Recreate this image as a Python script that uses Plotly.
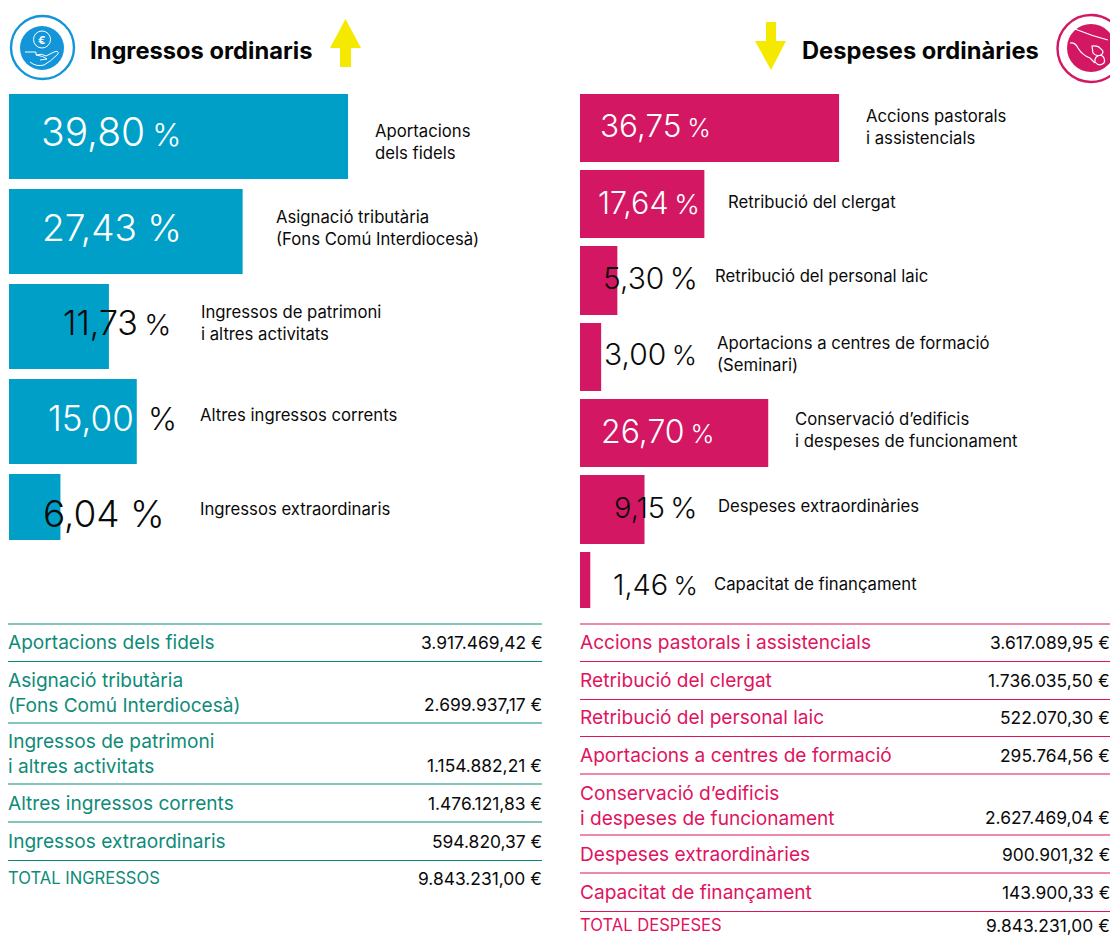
import plotly.graph_objects as go

# ---------- data ----------
income_labels = ["Aportacions<br>dels fidels", "Asignació tributària<br>(Fons Comú Interdiocesà)",
                 "Ingressos de patrimoni<br>i altres activitats", "Altres ingressos corrents", "Ingressos extraordinaris"]
income_pct = [39.80, 27.43, 11.73, 15.00, 6.04]
income_pct_text = ["39,80", "27,43", "11,73", "15,00", "6,04"]

expense_labels = ["Accions pastorals<br>i assistencials", "Retribució del clergat", "Retribució del personal laic",
                  "Aportacions a centres de formació<br>(Seminari)", "Conservació d’edificis<br>i despeses de funcionament",
                  "Despeses extraordinàries", "Capacitat de finançament"]
expense_pct = [36.75, 17.64, 5.30, 3.00, 26.70, 9.15, 1.46]
expense_pct_text = ["36,75", "17,64", "5,30", "3,00", "26,70", "9,15", "1,46"]

income_rows = ["Aportacions dels fidels", "Asignació tributària<br>(Fons Comú Interdiocesà)",
               "Ingressos de patrimoni<br>i altres activitats", "Altres ingressos corrents",
               "Ingressos extraordinaris", "TOTAL INGRESSOS"]
income_amounts = ["3.917.469,42 €", "2.699.937,17 €", "1.154.882,21 €", "1.476.121,83 €", "594.820,37 €", "9.843.231,00 €"]

expense_rows = ["Accions pastorals i assistencials", "Retribució del clergat", "Retribució del personal laic",
                "Aportacions a centres de formació", "Conservació d’edificis<br>i despeses de funcionament",
                "Despeses extraordinàries", "Capacitat de finançament", "TOTAL DESPESES"]
expense_amounts = ["3.617.089,95 €", "1.736.035,50 €", "522.070,30 €", "295.764,56 €", "2.627.469,04 €",
                   "900.901,32 €", "143.900,33 €", "9.843.231,00 €"]

# ---------- layout constants (pixels) ----------
W, H = 1110, 935
FONT = "Inter"
BLUE, PINK, YEL = "#009fc7", "#d31763", "#f6e900"
ICON_BLUE = "#1296d9"
TEAL, RED = "#0e8b78", "#e0135f"
INK = "#0a0a0a"

L_BAR_TOP = [94, 189, 284, 379, 474]
L_BAR_H = [85, 85, 85, 85, 66]
R_BAR_TOP = [94, 170, 246, 323, 399, 475, 552]
R_BAR_H = [68, 68, 69, 68, 68, 69, 56]
# x, y, font size, gap character, relative size of the % sign
L_PCT_POS = [(41, 131, 39, "\u2009", 0.8), (42, 227, 37, " ", 1.0), (63, 322, 34, "\u2009", 0.85),
             (48, 418, 35, "", 0), (43, 513, 37, " ", 1.0)]
R_PCT_POS = [(600, 125, 31.5, "\u2009", 0.8), (598, 202, 30.5, "\u2009", 0.9), (603, 278, 30, "\u2009", 1.0),
             (604, 354, 30, "\u2009", 0.9), (601, 431, 32, "\u2009", 0.8), (614, 507, 29, "\u2009", 1.0),
             (613, 584, 29, "\u2009", 0.9)]
L_LAB_POS = [(375, 142), (276, 228), (201, 323), (200, 415), (200, 509)]
R_LAB_POS = [(866, 127), (728, 202), (715, 276), (717, 354), (795, 430), (718, 506), (714, 584)]
L_LINES = [624, 661.5, 723, 784, 822, 860.5]
R_LINES = [624, 661.5, 699.5, 736.5, 774, 835, 873, 911.5]
L_ROW_Y = [642, 692, 753, 803, 841, 878]
R_ROW_Y = [642, 680, 717, 755, 805, 854, 892, 925]
LABEL_SIZE, ROW_SIZE, TOTAL_SIZE, AMOUNT_SIZE, TITLE_SIZE = 16.7, 19.1, 16.6, 17.4, 23.7

fig = go.Figure()
fig.add_trace(go.Bar(x=income_pct, y=[t + h / 2 for t, h in zip(L_BAR_TOP, L_BAR_H)], width=L_BAR_H,
                     orientation="h", marker=dict(color=BLUE, line_width=0), xaxis="x", yaxis="y", hoverinfo="skip"))
fig.add_trace(go.Bar(x=expense_pct, y=[t + h / 2 for t, h in zip(R_BAR_TOP, R_BAR_H)], width=R_BAR_H,
                     orientation="h", marker=dict(color=PINK, line_width=0), xaxis="x2", yaxis="y", hoverinfo="skip"))

ann = []
def text(x, y, s, size, color=INK, anchor="left", weight=400):
    ann.append(dict(x=x, y=y, xref="x3", yref="y", text=s, showarrow=False, xanchor=anchor, yanchor="middle",
                    align="left", font=dict(family=FONT, size=size, color=color, weight=weight),
                    xshift=0, yshift=0, borderpad=0, borderwidth=0))

def pct_markup(num, gap, size, rel):
    if rel == 0:
        return num
    return f"{num}{gap}<span style='font-size:{size * rel:.1f}px'>%</span>"

text(90, 50, "Ingressos ordinaris", TITLE_SIZE, "#050505", weight=700)
text(802, 50, "Despeses ordinàries", TITLE_SIZE, "#050505", weight=700)

for i, s in enumerate(income_pct_text):
    x, y, sz, gap, rel = L_PCT_POS[i]
    text(x, y, pct_markup(s, gap, sz, rel), sz, "#ffffff" if i in (0, 1, 3) else INK, weight=300)
text(148, 418, "%", 31, INK, weight=300)
for i, s in enumerate(expense_pct_text):
    x, y, sz, gap, rel = R_PCT_POS[i]
    text(x, y, pct_markup(s, gap, sz, rel), sz, "#ffffff" if i in (0, 1, 4) else INK, weight=300)

for (x, y), s in zip(L_LAB_POS, income_labels):
    text(x, y, s, LABEL_SIZE)
for (x, y), s in zip(R_LAB_POS, expense_labels):
    text(x, y, s, LABEL_SIZE)

for y, s, a in zip(L_ROW_Y, income_rows, income_amounts):
    text(8, y, s, TOTAL_SIZE if s.startswith("TOTAL") else ROW_SIZE, TEAL)
    text(542, y if "<br>" not in s else y + 12, a, AMOUNT_SIZE, INK, "right")
for y, s, a in zip(R_ROW_Y, expense_rows, expense_amounts):
    text(580, y, s, TOTAL_SIZE if s.startswith("TOTAL") else ROW_SIZE, RED)
    text(1110, y if "<br>" not in s else y + 12, a, AMOUNT_SIZE, INK, "right")

shapes = []
def line(x0, x1, y, c, w=1.1):
    shapes.append(dict(type="line", xref="x3", yref="y", x0=x0, x1=x1, y0=y, y1=y, line=dict(color=c, width=w)))
def circle(cx, cy, r, fill=None, stroke=None, w=0):
    shapes.append(dict(type="circle", xref="x3", yref="y", x0=cx - r, x1=cx + r, y0=cy - r, y1=cy + r,
                       fillcolor=fill or "rgba(0,0,0,0)", line=dict(color=stroke or "rgba(0,0,0,0)", width=w)))
def path(d, fill=None, stroke=None, w=0):
    shapes.append(dict(type="path", xref="x3", yref="y", path=d, fillcolor=fill or "rgba(0,0,0,0)",
                       line=dict(color=stroke or "rgba(0,0,0,0)", width=w)))

for y in L_LINES:
    line(8, 542, y, TEAL)
for y in R_LINES:
    line(580, W, y, RED)

# arrows
path("M345.5,19 L361,48 L351,48 L351,67 L340,67 L340,48 L330,48 Z", YEL)
path("M771,70 L786,41 L776,41 L776,22 L766,22 L766,41 L755,41 Z", YEL)

# left icon
circle(42.5, 47.5, 31.5, None, ICON_BLUE, 2.4)
circle(42, 48, 22, ICON_BLUE)
circle(42, 39.5, 8.5, None, "#ffffff", 1)
path("M25,52 L36,52 L36,55 Q42,53 46,56 L54,52 Q59,50 58,54 Q50,62 44,65 Q36,67 30,62 M36,55 Q44,56 47,59 L40,60", None, "#ffffff", 1)
ann.append(dict(x=42, y=39.5, xref="x3", yref="y", text="€", showarrow=False, font=dict(family=FONT, size=11, color="#ffffff", weight=700)))

# right icon
circle(1091, 48.5, 33.5, None, PINK, 2.4)
circle(1091, 48, 24, PINK)
path("M1075,29 Q1092,36 1108,40", None, "#ffffff", 1.2)
path("M1070,43 Q1075,42 1078,48 Q1082,55 1090,58 L1095,63", None, "#ffffff", 1.2)
path("M1092,46 Q1098,45 1101,49 Q1105,52 1101,55 Q1096,57 1093,53 Z", None, "#ffffff", 1.2)
path("M1095,62 Q1094,56 1101,55 Q1106,58 1104,63 Q1099,67 1095,62 Z", None, "#ffffff", 1.2)

PX_L, PX_R = 8.518, 7.05   # pixels per percentage point
fig.update_layout(
    width=W, height=H, margin=dict(l=0, r=0, t=0, b=0), autosize=False,
    paper_bgcolor="#ffffff", plot_bgcolor="rgba(0,0,0,0)", showlegend=False, barmode="overlay",
    xaxis=dict(domain=[9 / W, 548 / W], range=[0, 539 / PX_L], visible=False, anchor="y", fixedrange=True),
    xaxis2=dict(domain=[580 / W, 1], range=[0, 530 / PX_R], visible=False, anchor="y", fixedrange=True),
    xaxis3=dict(domain=[0, 1], range=[0, W], visible=False, anchor="y", fixedrange=True),
    yaxis=dict(domain=[0, 1], range=[H, 0], visible=False, fixedrange=True),
    annotations=ann, shapes=shapes,
)
fig.write_html("out.html", post_script="document.body.style.margin='0';", config=dict(displayModeBar=False))
